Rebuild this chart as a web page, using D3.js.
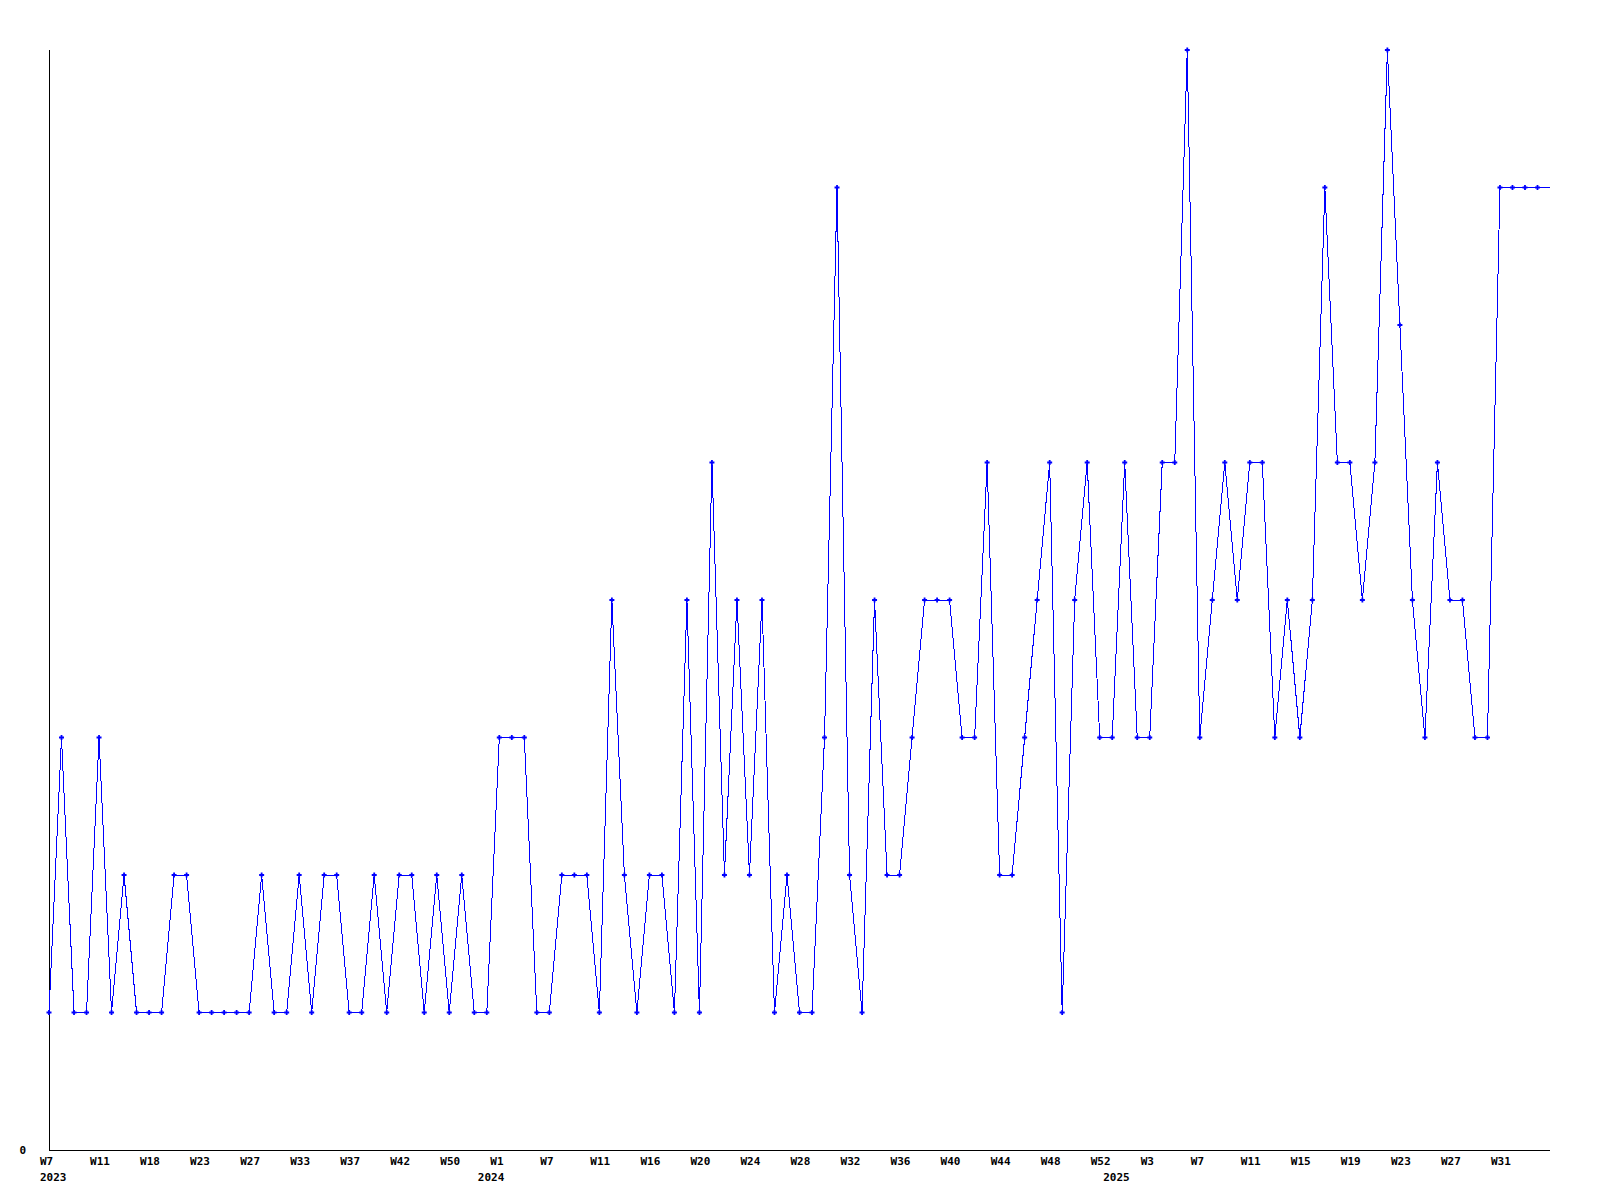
<!DOCTYPE html>
<html>
<head>
<meta charset="utf-8">
<script src="https://cdn.jsdelivr.net/npm/d3@7"></script>
<style>
  html, body { margin: 0; padding: 0; background: #ffffff; }
  svg { display: block; }
  text { font-family: "DejaVu Sans Mono", "Liberation Mono", monospace; font-weight: bold; font-size: 11px; fill: #000; }
</style>
</head>
<body>
<script>
// ---- data ----
const weeks2023 = [7, 8, 9, 10, 11, 13, 15, 16, 18, 19, 20, 22, 23, 24, 25, 26, 27, 29, 30, 31, 33, 34, 35, 36, 37, 38, 40, 41, 42, 44, 46, 48, 50, 51, 52];
const weeks2024 = [0, 1, 3, 4, 6, 7, 8, 9, 10, 11, 12, 13, 15, 16, 17, 18, 19, 20, 21, 22, 23, 24, 25, 26, 27, 28, 29, 30, 31, 32, 33, 34, 35, 36, 37, 38, 39, 40, 41, 42, 43, 44, 45, 46, 47, 48, 49, 50, 51, 52];
const weeks2025 = [0, 1, 2, 3, 4, 5, 6, 7, 8, 9, 10, 11, 12, 13, 14, 15, 16, 17, 18, 19, 20, 21, 22, 23, 24, 25, 26, 27, 28, 29, 30, 31, 32, 33, 34, 35];
const values = [
  1, 3, 1, 1, 3, 1, 2, 1, 1, 1,
  2, 2, 1, 1, 1, 1, 1, 2, 1, 1,
  2, 1, 2, 2, 1, 1, 2, 1, 2, 2,
  1, 2, 1, 2, 1, 1, 3, 3, 3, 1,
  1, 2, 2, 2, 1, 4, 2, 1, 2, 2,
  1, 4, 1, 5, 2, 4, 2, 4, 1, 2,
  1, 1, 3, 7, 2, 1, 4, 2, 2, 3,
  4, 4, 4, 3, 3, 5, 2, 2, 3, 4,
  5, 1, 4, 5, 3, 3, 5, 3, 3, 5,
  5, 8, 3, 4, 5, 4, 5, 5, 3, 4,
  3, 4, 7, 5, 5, 4, 5, 8, 6, 4,
  3, 5, 4, 4, 3, 3, 7, 7, 7, 7, 7
];
const yTickValues = [0];
const weekLabelEvery = 4;

// categories built from the week lists
const categories = [];
[[2023, weeks2023], [2024, weeks2024], [2025, weeks2025]].forEach(([yr, wks]) => {
  wks.forEach(w => categories.push({ key: yr + "-W" + w, year: yr, week: w }));
});
const data = categories.map((c, i) => ({ key: c.key, year: c.year, week: c.week, value: values[i] }));

// ---- layout ----
const W = 1600, H = 1200;
const x0 = 49, x1 = 1550, yTop = 50, yBottom = 1150;

const svg = d3.select("body").append("svg").attr("width", W).attr("height", H);

const x = d3.scalePoint().domain(categories.map(c => c.key)).range([x0, x1]);
const y = d3.scaleLinear().domain([0, 8]).range([yBottom, yTop]);

// week tick labels (every 4th category, the last/current point is not labelled)
const weekTicks = categories.filter((c, i) => i % weekLabelEvery === 0 && i < categories.length - 1).map(c => c.key);
const keyInfo = new Map(categories.map(c => [c.key, c]));

const xAxis = d3.axisBottom(x).tickValues(weekTicks).tickSize(0).tickPadding(0)
  .tickFormat(k => "W" + keyInfo.get(k).week);
const gx = svg.append("g").attr("transform", `translate(0,${yBottom})`).call(xAxis);
gx.select(".domain").attr("d", `M${x0},0.5H${x1}`).attr("stroke", "#000").attr("shape-rendering", "crispEdges");
gx.selectAll(".tick text").attr("text-anchor", "start").attr("dx", -9.5).attr("y", 15).attr("dy", 0);

// year labels at the first point of each year
const yearTicks = categories.filter((c, i) => i === 0 || categories[i - 1].year !== c.year).map(c => c.key);
const yearAxis = d3.axisBottom(x).tickValues(yearTicks).tickSize(0).tickPadding(0)
  .tickFormat(k => String(keyInfo.get(k).year));
const gyYear = svg.append("g").attr("transform", `translate(0,${yBottom})`).call(yearAxis);
gyYear.select(".domain").remove();
gyYear.selectAll(".tick text").attr("text-anchor", "start").attr("dx", -9.5).attr("y", 31).attr("dy", 0);

// y axis
const yAxis = d3.axisLeft(y).tickValues(yTickValues).tickSize(0).tickPadding(23).tickFormat(d3.format("d"));
const gy = svg.append("g").attr("transform", `translate(${x0},0)`).call(yAxis);
gy.select(".domain").attr("d", `M0.5,${yTop}V${yBottom}`).attr("stroke", "#000").attr("shape-rendering", "crispEdges");
gy.selectAll(".tick text").attr("dy", "0.35em");
svg.selectAll(".tick text").style("font-family", "'DejaVu Sans Mono', monospace").style("font-weight", "bold").style("font-size", "11px").attr("fill", "#000");

// line
const line = d3.line().x(d => x(d.key)).y(d => y(d.value));
svg.append("path").datum(data)
  .attr("d", line)
  .attr("fill", "none")
  .attr("stroke", "#0000ff")
  .attr("stroke-width", 1)
  .attr("shape-rendering", "crispEdges");

// markers (plus shapes), all but the last (current) point
svg.append("g").selectAll("path.m").data(data.slice(0, data.length - 1)).join("path")
  .attr("class", "m")
  .attr("transform", d => `translate(${x(d.key)},${y(d.value)})`)
  .attr("d", "M-2.5,0H2.5M0,-2.5V2.5")
  .attr("stroke", "#0000ff")
  .attr("stroke-width", 1.8)
  .attr("fill", "none");
</script>
</body>
</html>
